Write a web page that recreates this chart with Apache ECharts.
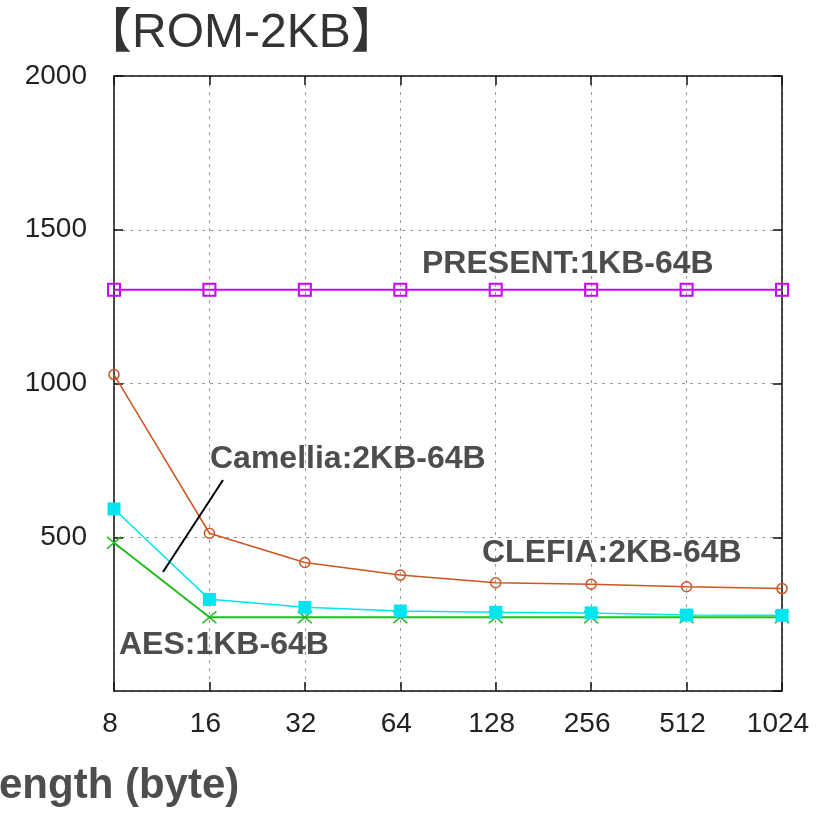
<!DOCTYPE html>
<html>
<head>
<meta charset="utf-8">
<script src="https://cdn.jsdelivr.net/npm/echarts@6/dist/echarts.min.js"></script>
<style>html,body{margin:0;padding:0;background:#fff;}#c{width:819px;height:813px;}</style>
</head>
<body>
<div id="c"></div>
<script>
var categories = ['8', '16', '32', '64', '128', '256', '512', '1024'];
var presentValues = [1305, 1305, 1305, 1305, 1305, 1305, 1305, 1305];
var clefiaValues = [1029, 513, 418, 377, 352, 347, 339, 333];
var aesValues = [482, 240, 240, 240, 240, 240, 240, 240];
var camelliaValues = [592, 298, 272, 260, 256, 254, 247, 246];
var yTicks = [0, 500, 1000, 1500, 2000];
var titleText = '【ROM-2KB】';
var xAxisTitle = 'ength (byte)';
var seriesLabels = ['PRESENT:1KB-64B', 'Camellia:2KB-64B', 'CLEFIA:2KB-64B', 'AES:1KB-64B'];

var FONT = '"Liberation Sans", Arial, "Noto Sans CJK JP", sans-serif';
var chart = echarts.init(document.getElementById('c'), null, {renderer: 'canvas'});

var grid = {left: 114, top: 76, width: 668, height: 615};
var dotted = {show: true, lineStyle: {color: '#9a9a9a', width: 1, type: [3, 5]}};
var axisLine = {show: true, onZero: false, lineStyle: {color: '#111', width: 1.5}};
var tick = {show: true, inside: true, length: 9, lineStyle: {color: '#111', width: 1.5}};

var option = {
  animation: false,
  backgroundColor: '#fff',
  grid: grid,
  xAxis: [{
    type: 'category', data: categories, boundaryGap: false, position: 'bottom',
    axisLine: axisLine, axisTick: tick,
    axisLabel: {fontSize: 28, color: '#222', fontFamily: FONT, margin: 19, padding: [0, 8, 0, 0]},
    splitLine: dotted
  }, {
    type: 'category', data: categories, boundaryGap: false, position: 'top',
    axisLine: axisLine, axisTick: tick, axisLabel: {show: false}, splitLine: {show: false}
  }],
  yAxis: [{
    type: 'value', min: yTicks[0], max: yTicks[yTicks.length - 1], interval: yTicks[1] - yTicks[0], position: 'left',
    axisLine: axisLine, axisTick: tick,
    axisLabel: {fontSize: 28, color: '#222', fontFamily: FONT, margin: 27, showMinLabel: false, padding: [0, 0, 4, 0],
      formatter: function (v) { return String(v); }},
    splitLine: dotted
  }, {
    type: 'value', min: yTicks[0], max: yTicks[yTicks.length - 1], interval: yTicks[1] - yTicks[0], position: 'right',
    axisLine: axisLine, axisTick: tick, axisLabel: {show: false}, splitLine: {show: false}
  }],
  series: [{
    name: 'PRESENT', type: 'line', data: presentValues,
    symbol: 'rect', symbolSize: 12,
    lineStyle: {color: '#cc00ff', width: 2},
    itemStyle: {color: 'transparent', borderColor: '#cc00ff', borderWidth: 2},
    z: 3
  }, {
    name: 'CLEFIA', type: 'line', data: clefiaValues,
    symbol: 'circle', symbolSize: 10,
    lineStyle: {color: '#cc5522', width: 1.5},
    itemStyle: {color: 'transparent', borderColor: '#cc5522', borderWidth: 1.5},
    z: 3
  }, {
    name: 'AES', type: 'line', data: aesValues,
    symbol: 'path://M0,0L10,10M10,0L0,10', symbolSize: [14, 12], symbolKeepAspect: false,
    lineStyle: {color: '#22bb22', width: 2},
    itemStyle: {color: '#22bb22', borderColor: '#22bb22', borderWidth: 1.5},
    z: 3
  }, {
    name: 'Camellia', type: 'line', data: camelliaValues,
    symbol: 'rect', symbolSize: 13,
    lineStyle: {color: '#00e5ee', width: 1.5},
    itemStyle: {color: '#00e5ee'},
    z: 4
  }]
};
chart.setOption(option);

var labelStyle = function (t, x, y, size) {
  return {type: 'text', x: x, y: y, z: 100,
    style: {text: t, fontSize: size, fontWeight: 'bold', fontFamily: FONT, fill: '#4d4d4d',
      textAlign: 'left', textVerticalAlign: 'middle'}};
};
chart.setOption({
  graphic: [
    {type: 'text', x: 84, y: 34, z: 100,
      style: {text: titleText, fontSize: 48, fontFamily: FONT, fill: '#333', textAlign: 'left', textVerticalAlign: 'middle'}},
    labelStyle(seriesLabels[0], 422, 264, 32),
    labelStyle(seriesLabels[1], 210, 459, 32),
    labelStyle(seriesLabels[2], 482, 553, 32),
    labelStyle(seriesLabels[3], 119, 645, 32),
    labelStyle(xAxisTitle, -1, 786, 42),
    {type: 'line', z: 100, shape: {x1: 163, y1: 572, x2: 223, y2: 480}, style: {stroke: '#000', lineWidth: 2}}
  ]
});
</script>
</body>
</html>
